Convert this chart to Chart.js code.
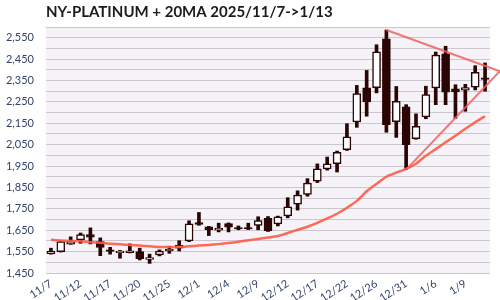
<!DOCTYPE html>
<html>
<head>
<meta charset="utf-8">
<script src="https://cdn.jsdelivr.net/npm/chart.js@4/dist/chart.umd.min.js"></script>
<style>
  html, body { margin: 0; padding: 0; background: #fff; }
  #wrap { width: 500px; height: 300px; }
</style>
</head>
<body>
<div id="wrap"><canvas id="platChart"></canvas></div>
<script>
// ---------------------------- data ----------------------------
const dates = ['11/7','11/10','11/11','11/12','11/13','11/14','11/17','11/18','11/19','11/20',
  '11/21','11/24','11/25','11/26','11/28','12/1','12/2','12/3','12/4','12/5',
  '12/8','12/9','12/10','12/11','12/12','12/15','12/16','12/17','12/18','12/19',
  '12/22','12/23','12/24','12/26','12/29','12/30','12/31','1/2','1/5','1/6',
  '1/7','1/8','1/9','1/12','1/13'];

const opens  = [1540,1550,1585,1605,1630,1597,1558,1545,1545,1550,1513,1534,1553,1566,1600,1686,1666,1650,1681,1662,
  1662,1672,1706,1680,1717,1772,1817,1879,1937,1961,2027,2156,2316,2316,2545,2157,2227,2078,2180,2315,
  2475,2311,2305,2319,2362];
const closes = [1553,1597,1597,1630,1617,1569,1551,1553,1554,1517,1522,1552,1562,1581,1680,1677,1653,1660,1664,1656,
  1656,1695,1648,1712,1759,1814,1870,1937,1960,2014,2086,2289,2250,2484,2143,2253,2050,2136,2284,2469,
  2295,2296,2317,2388,2355];
const highs  = [1566,1599,1619,1637,1661,1614,1570,1556,1586,1566,1538,1558,1575,1601,1694,1733,1668,1683,1684,1670,
  1683,1713,1714,1716,1802,1834,1891,1960,1992,2020,2148,2327,2397,2517,2586,2322,2237,2194,2323,2483,
  2510,2330,2332,2419,2432];
const lows   = [1538,1548,1584,1589,1586,1531,1538,1519,1544,1511,1495,1530,1542,1553,1597,1673,1625,1642,1642,1652,
  1653,1652,1644,1670,1708,1744,1809,1873,1931,1922,2023,2131,2183,2292,2108,2084,1933,2075,2171,2237,
  2237,2173,2206,2306,2300];

const ma20 = [1605,1602,1600,1598,1594,1591,1587,1584,1581,1578,1575,1572,1571,1572,1575,1578,1581,1585,1590,1596,
  1603,1609,1616,1623,1637,1652,1666,1684,1705,1727,1755,1787,1832,1867,1900,1919,1937,1961,1998,2029,
  2061,2092,2124,2155,2183];

// triangle lines: [candle index, price]
const trendUpper = [[34, 2586], [45.5, 2393]];
const trendLower = [[36, 1933], [45.5, 2393]];

const tickEvery = 3;
const yMin = 1450, yMax = 2600, yStep = 50;

// ---------------------------- styles ----------------------------
const dark = '#2b0404';
const tickColor = '#33436a';
const fontFam = 'Lato, "Open Sans", sans-serif';

const plotBg = {
  id: 'plotBg',
  beforeDraw(chart) {
    const { ctx, chartArea: a } = chart;
    ctx.save();
    ctx.fillStyle = '#fff';
    ctx.fillRect(0, 0, chart.width, chart.height);
    ctx.fillStyle = '#f5f3f7';
    ctx.fillRect(a.left, a.top, a.right - a.left, a.bottom - a.top);
    ctx.restore();
  }
};

const config = {
  type: 'bar',
  data: {
    labels: dates,
    datasets: [
      {
        type: 'line', label: 'upper', xAxisID: 'x2',
        data: trendUpper.map(p => ({ x: p[0], y: p[1] })),
        borderColor: 'rgba(240,95,95,0.85)', borderWidth: 2, pointRadius: 0,
        clip: false, order: 0
      },
      {
        type: 'line', label: 'lower', xAxisID: 'x2',
        data: trendLower.map(p => ({ x: p[0], y: p[1] })),
        borderColor: 'rgba(240,95,95,0.85)', borderWidth: 2, pointRadius: 0,
        clip: false, order: 0
      },
      {
        type: 'line', label: '20MA', data: ma20,
        borderColor: 'rgba(255,90,70,0.9)', borderWidth: 2.5, pointRadius: 0,
        tension: 0.2, order: 1
      },
      {
        label: 'body',
        data: opens.map((o, i) => [o, closes[i]]),
        backgroundColor: opens.map((o, i) => closes[i] >= o ? '#ffffff' : dark),
        borderColor: dark, borderWidth: 1.5, borderSkipped: false,
        barThickness: 8, grouped: false, order: 2
      },
      {
        label: 'wick',
        data: lows.map((l, i) => [l, highs[i]]),
        backgroundColor: dark, barThickness: 3, grouped: false, order: 3
      }
    ]
  },
  options: {
    responsive: true,
    maintainAspectRatio: false,
    animation: false,
    layout: { padding: { left: 0, right: 10, top: 0, bottom: 0 } },
    plugins: {
      legend: { display: false },
      tooltip: { enabled: false },
      title: {
        display: true,
        text: 'NY-PLATINUM + 20MA 2025/11/7->1/13',
        align: 'start',
        fullSize: false,
        color: '#1b1b1b',
        font: { family: fontFam, size: 15, weight: 'bold' },
        padding: { top: 3, bottom: 6 }
      }
    },
    scales: {
      x: {
        offset: true,
        afterFit(s) { s.height = 27; },
        grid: { display: false },
        border: { display: false },
        ticks: {
          autoSkip: false, minRotation: 33, maxRotation: 33, padding: -4,
          color: tickColor, font: { family: fontFam, size: 11 },
          callback(v, i) { return i % tickEvery === 0 ? dates[i] : ''; }
        }
      },
      x2: { type: 'linear', display: false, offset: false, min: -0.5, max: 44.5, bounds: 'data' },
      y: {
        min: yMin, max: yMax,
        afterFit(s) { s.width = 46; },
        grid: { color: '#cac8cc', lineWidth: 1, drawTicks: false },
        border: { display: false },
        ticks: {
          stepSize: yStep, autoSkip: false, padding: 12,
          color: tickColor, font: { family: fontFam, size: 11 },
          callback: v => (v - 50) % 100 === 0 ? v.toLocaleString('en-US') : ''
        }
      }
    }
  },
  plugins: [plotBg]
};

const platChart = new Chart(document.getElementById('platChart'), config);
</script>
</body>
</html>
